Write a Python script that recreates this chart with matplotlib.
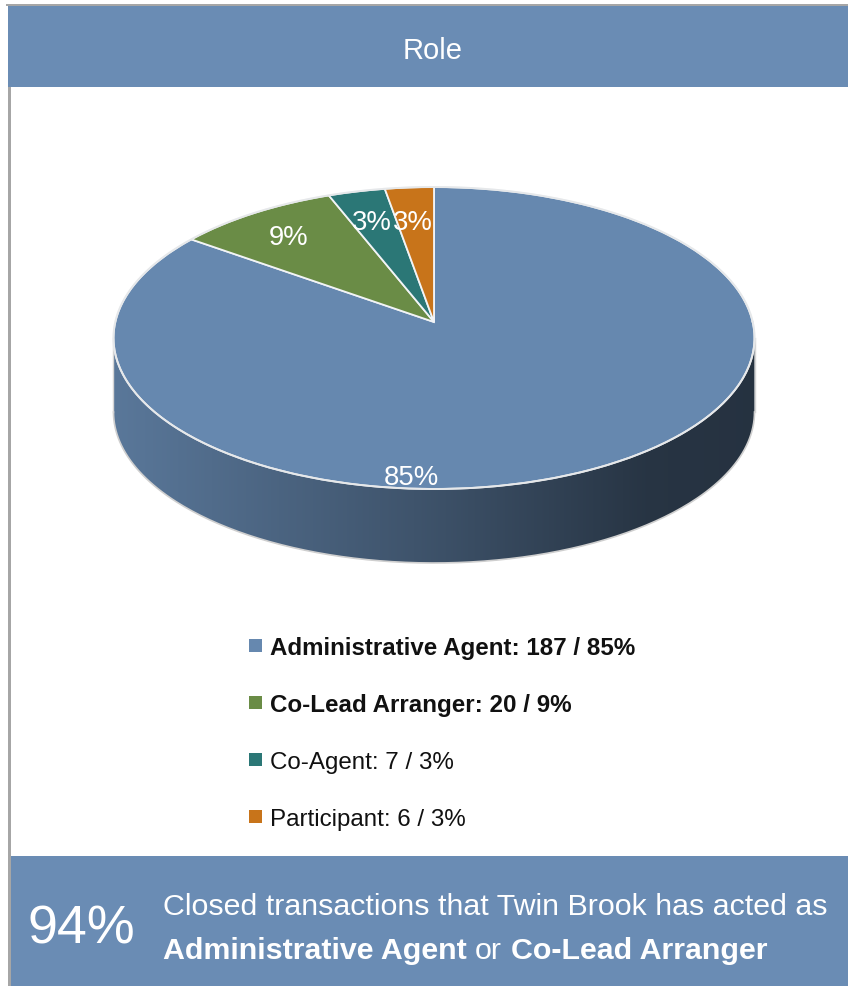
import numpy as np
import matplotlib
matplotlib.use("Agg")
import matplotlib.pyplot as plt
from matplotlib import font_manager as fm
from matplotlib.patches import Rectangle, Polygon
from matplotlib.transforms import Transform

# ---- data -------------------------------------------------------------
roles = ["Administrative Agent", "Co-Lead Arranger", "Co-Agent", "Participant"]
counts = [187, 20, 7, 6]
bold_roles = [True, True, False, False]
slice_colors = ["#6688AF", "#6A8C46", "#2B7776", "#C8741A"]
title_text = "Role"
headline_roles = ["Administrative Agent", "Co-Lead Arranger"]
caption_lead = "Closed transactions that Twin Brook has acted as"
caption_join = "or"

# ---- fonts ------------------------------------------------------------
_avail = {f.name for f in fm.fontManager.ttflist}


def first_font(*names):
    for n in names:
        if n in _avail:
            return n
    return None


SANS = first_font("Liberation Sans", "Arial") or "DejaVu Sans"
NARROW = first_font("Liberation Sans Narrow", "Arial Narrow")
if NARROW is None:
    # no condensed face available: use the regular face, sized to keep widths
    NARROW = SANS
    NSCALE, NSCALE_BIG = 0.815, 0.9
else:
    NSCALE, NSCALE_BIG = 1.0, 1.0

BAND = "#6A8CB4"
BORDER = "#A6A6A6"
W, H = 848, 986

fig = plt.figure(figsize=(W / 100, H / 100), dpi=100)
ax = fig.add_axes([0, 0, 1, 1])


class TiltedDisc(Transform):
    """Maps the unit pie circle onto a tilted, perspective-viewed disc."""
    input_dims = 2
    output_dims = 2

    def __init__(self, cx, cy, rx, ry, k):
        super().__init__()
        self.cx, self.cy, self.rx, self.ry, self.k = cx, cy, rx, ry, k

    def transform_non_affine(self, values):
        values = np.asarray(values, dtype=float).reshape(-1, 2)
        u, v = values[:, 0], values[:, 1]
        d = 1.0 + self.k * v
        return np.column_stack([self.cx + self.rx * u / d,
                                self.cy - self.ry * v / d])


disc = TiltedDisc(434.0, 322.0, 318.7, 149.3, 0.106)
depth = 74.0

# ---- pie top face -----------------------------------------------------
wedges, _ = ax.pie(counts, colors=slice_colors, startangle=90,
                   counterclock=False,
                   wedgeprops=dict(edgecolor="#F2F4F6", linewidth=1.3,
                                   zorder=4))
disc_data = disc + ax.transData
for w in wedges:
    w.set_transform(disc_data)

ax.set_aspect("auto")
ax.set_xlim(0, W)
ax.set_ylim(H, 0)
ax.axis("off")

# ---- frame, header and footer ------------------------------------------
ax.add_patch(Rectangle((0, 0), W, H, facecolor="white", edgecolor="none",
                       zorder=0))
ax.add_patch(Rectangle((6, 3.5), W - 6, 2.5, facecolor=BORDER,
                       edgecolor="none", zorder=0.5))
ax.add_patch(Rectangle((7.5, 3.5), 3.0, H - 3.5, facecolor=BORDER,
                       edgecolor="none", zorder=0.5))
ax.add_patch(Rectangle((8, 6), W - 8, 81, facecolor=BAND, edgecolor="none",
                       zorder=1))
ax.add_patch(Rectangle((10.5, 856), W - 10.5, H - 856, facecolor=BAND,
                       edgecolor="none", zorder=1))

ax.text(432.5, 59, title_text, color="white", fontsize=21, family=SANS,
        ha="center", va="baseline", zorder=5)

# ---- pie side wall ------------------------------------------------------
values = np.asarray(counts, dtype=float)
total = values.sum()
fracs = values / total
starts = 90.0 - 360.0 * np.concatenate([[0.0], np.cumsum(fracs)[:-1]])
ends = starts - 360.0 * fracs

edge = np.degrees(np.arcsin(disc.k))
front_lo, front_hi = -180.0 + edge, -edge  # visible front of the rim

xs_grad = np.linspace(100, 770, 400)
shade = np.interp(xs_grad, [113, 434, 650, 754], [0.88, 0.60, 0.385, 0.37])

for color, a_start, a_end in zip(slice_colors, starts, ends):
    for shift in (0.0, 360.0, -360.0):
        lo = max(a_end + shift, front_lo)
        hi = min(a_start + shift, front_hi)
        if hi <= lo:
            continue
        ang = np.radians(np.linspace(lo, hi, 240))
        top = disc.transform(np.column_stack([np.cos(ang), np.sin(ang)]))
        bottom = top + np.array([0.0, depth])
        poly = np.vstack([top, bottom[::-1]])
        outline = Polygon(poly, closed=True, facecolor="none",
                          edgecolor="none", zorder=2)
        ax.add_patch(outline)
        rgb = np.array(matplotlib.colors.to_rgb(color))
        img = (shade[None, :, None] * rgb[None, None, :]).clip(0, 1)
        im = ax.imshow(img, extent=(xs_grad[0], xs_grad[-1],
                                    poly[:, 1].max() + 2,
                                    poly[:, 1].min() - 2),
                       aspect="auto", interpolation="bilinear", zorder=2)
        im.set_clip_path(outline)
        ax.plot(bottom[:, 0], bottom[:, 1], color="#CFCFCF", lw=1.2,
                zorder=3)
        ax.plot([bottom[0, 0], top[0, 0]], [bottom[0, 1], top[0, 1]],
                color="#D5D5D5", lw=1.0, zorder=3)
        ax.plot([bottom[-1, 0], top[-1, 0]], [bottom[-1, 1], top[-1, 1]],
                color="#D5D5D5", lw=1.0, zorder=3)

ax.set_xlim(0, W)
ax.set_ylim(H, 0)

# rim of the top face
ring = np.radians(np.linspace(0, 360, 721))
rim = disc.transform(np.column_stack([np.cos(ring), np.sin(ring)]))
ax.plot(rim[:, 0], rim[:, 1], color="#E6E8EA", lw=1.4, zorder=4.5)

# ---- percentage labels on the slices ---------------------------------------
pcts = np.rint(100 * fracs).astype(int)
label_pos = [(411, 485), (289, 245), (372, 230), (413, 230)]
for p, (lx, ly) in zip(pcts, label_pos):
    ax.text(lx, ly, f"{p}%", color="white", fontsize=22 * NSCALE_BIG,
            family=NARROW, ha="center", va="baseline", zorder=6)

# ---- legend ---------------------------------------------------------------
row_centers = [645.5, 702.5, 759.5, 816.5]
sq = 12.5
for name, cnt, p, bold, color, yc in zip(roles, counts, pcts, bold_roles,
                                         slice_colors, row_centers):
    ax.add_patch(Rectangle((249.2, yc - sq / 2), sq, sq, facecolor=color,
                           edgecolor="none", zorder=5))
    ax.text(270, yc + 9.3, f"{name}: {cnt} / {p}%", color="#111111",
            fontsize=17.4, family=SANS,
            fontweight="bold" if bold else "normal",
            ha="left", va="baseline", zorder=5)

# ---- footer headline ---------------------------------------------------------
share = np.rint(100 * sum(c for r, c in zip(roles, counts)
                          if r in headline_roles) / total).astype(int)
ax.text(28, 944, f"{share}%", color="white", fontsize=43 * NSCALE_BIG,
        family=NARROW, ha="left", va="baseline", zorder=5)
ax.text(163, 915, caption_lead, color="white", fontsize=26.8 * NSCALE,
        family=NARROW, ha="left", va="baseline", zorder=5)

renderer = fig.canvas.get_renderer()
inv = ax.transData.inverted()


def text_width(t):
    bb = t.get_window_extent(renderer=renderer)
    p0 = inv.transform((bb.x0, bb.y0))
    p1 = inv.transform((bb.x1, bb.y0))
    return p1[0] - p0[0]


fsz = 26.8 * NSCALE
probe_a = ax.text(0, -100, "nn", fontsize=fsz, family=NARROW)
probe_b = ax.text(0, -100, "n n", fontsize=fsz, family=NARROW)
space_w = text_width(probe_b) - text_width(probe_a)
probe_a.remove()
probe_b.remove()

x = 163.0
pieces = [(headline_roles[0], "bold"), (caption_join, "normal"),
          (headline_roles[1], "bold")]
for txt, wt in pieces:
    t = ax.text(x, 959, txt, color="white", fontsize=fsz, family=NARROW,
                fontweight=wt, ha="left", va="baseline", zorder=5)
    x += text_width(t) + space_w

fig.savefig("out.png", dpi=100)
